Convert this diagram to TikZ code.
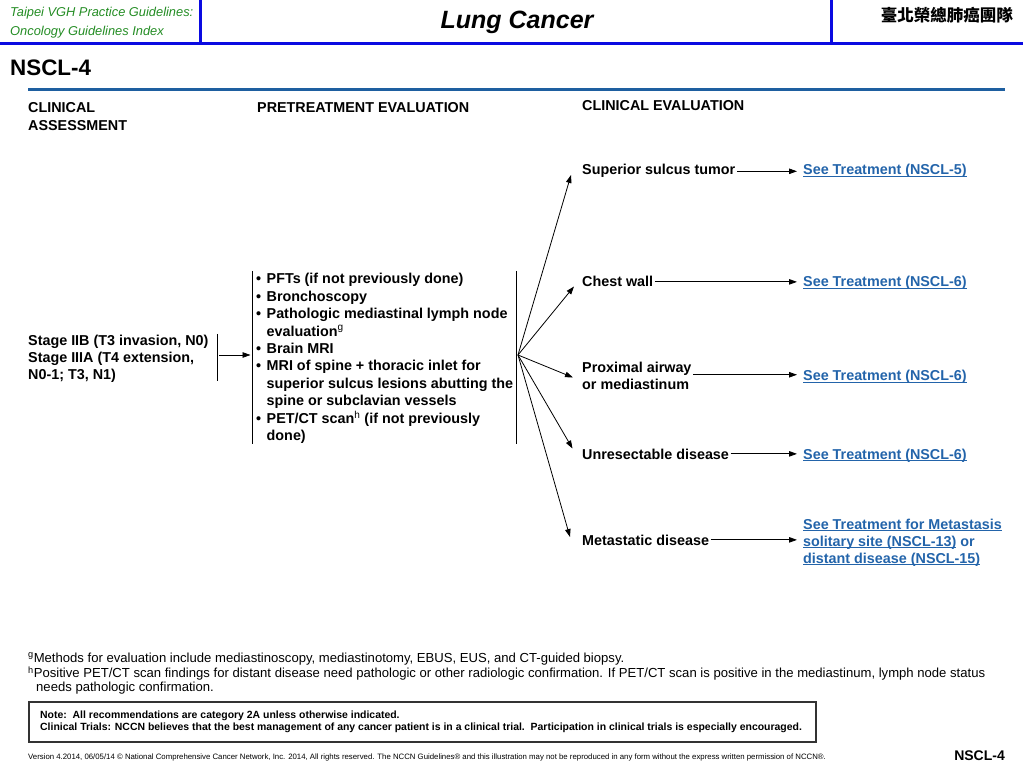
\documentclass[tikz,border=0pt]{standalone}
\usepackage{fontspec}
\setmainfont{Liberation Sans}
\newfontfamily\cjk{Noto Sans CJK TC}
\usetikzlibrary{arrows.meta}
\definecolor{hdrblue}{RGB}{10,10,225}
\definecolor{rulblue}{RGB}{30,95,160}
\definecolor{lnkblue}{RGB}{35,100,170}
\definecolor{grn}{RGB}{35,140,35}
\newcommand\ulk[1]{\setbox0\hbox{#1}\rlap{\rule[-2.2pt]{\wd0}{1.1pt}}\box0\relax}
\newcommand\txtlines[3]{{\fontsize{#1}{#2}\selectfont\begin{tabular}[t]{@{}l@{}}#3\end{tabular}}}
\newcommand\bulx{\makebox[10.5pt][l]{•}}
\newcommand\indx{\hspace*{10.5pt}}
\begin{document}
\begin{tikzpicture}[x=1pt,y=-1pt,
  lab/.style={anchor=base west,inner sep=0pt,font=\bfseries\fontsize{14.35}{17.4}\selectfont},
  lnk/.style={lab,text=lnkblue},
  arr/.style={-{Triangle[length=8pt,width=5.5pt]},line width=0.8pt},
  bar/.style={line width=0.8pt}]
\useasboundingbox (0,0) rectangle (1023,767);
% header
\draw[hdrblue,line width=3.5pt] (0,43.3) -- (1023,43.3);
\draw[hdrblue,line width=3pt] (200,0) -- (200,43.3);
\draw[hdrblue,line width=3pt] (831,0) -- (831,43.3);
\node[anchor=base west,inner sep=0pt,text=grn,font=\itshape\fontsize{12.85}{15}\selectfont] (org1) at (10,17) {Taipei VGH Practice Guidelines:};
\node[anchor=base west,inner sep=0pt,text=grn,font=\itshape\fontsize{12.85}{15}\selectfont] (org2) at (10,36) {Oncology Guidelines Index};
\node[anchor=base,inner sep=0pt,font=\bfseries\itshape\fontsize{25}{30}\selectfont] (title) at (517,29) {Lung Cancer};
\node[anchor=base east,inner sep=0pt,font=\cjk\bfseries\fontsize{16.5}{20}\selectfont] (team) at (1013,22) {臺北榮總肺癌團隊};
\node[anchor=base west,inner sep=0pt,font=\bfseries\fontsize{22.4}{26}\selectfont] (page) at (10,76) {NSCL-4};
\draw[rulblue,line width=3pt] (28,89.5) -- (1005,89.5);
% column headers
\node[lab] (h1) at (28,113) {\txtlines{14.35}{18}{CLINICAL\\ASSESSMENT}};
\node[lab] (h2) at (257,113) {PRETREATMENT EVALUATION};
\node[lab] (h3) at (582,111) {CLINICAL EVALUATION};
% clinical assessment
\node[lab] (stage) at (28,345) {\txtlines{14.35}{17.5}{Stage IIB (T3 invasion, N0)\\Stage IIIA (T4 extension,\\N0-1; T3, N1)}};
\draw[bar] (217,334) -- (217,381);
\coordinate (sbar) at (217,355);
\coordinate (lbar) at (252,355);
\draw[arr,shorten <=2pt,shorten >=1.5pt] (sbar) -- (lbar);
% pretreatment evaluation
\draw[bar] (252,271) -- (252,444);
\draw[bar] (516,271) -- (516,444);
\node[lab] (evals) at (256,284) {\txtlines{14.35}{17.4}{%
\bulx PFTs (if not previously done)\\
\bulx Bronchoscopy\\
\bulx Pathologic mediastinal lymph node\\
\indx evaluation\textsuperscript{\mdseries g}\\
\bulx Brain MRI\\
\bulx MRI of spine + thoracic inlet for\\
\indx superior sulcus lesions abutting the\\
\indx spine or subclavian vessels\\
\bulx PET/CT scan\textsuperscript{\mdseries h} (if not previously\\
\indx done)}};
% clinical evaluation
\node[lab] (sup) at (582,175) {Superior sulcus tumor};
\node[lab] (chest) at (582,287) {Chest wall};
\node[lab] (prox) at (582,372) {\txtlines{14.35}{17.5}{Proximal airway\\or mediastinum}};
\node[lab] (unres) at (582,459) {Unresectable disease};
\node[lab] (meta) at (582,545) {Metastatic disease};
\coordinate (fan) at (518,355);
\coordinate (t1) at (571,175);
\coordinate (t2) at (574,286.5);
\coordinate (t3) at (573,377.5);
\coordinate (t4) at (572.5,448.5);
\coordinate (t5) at (570,537);
\foreach \t in {t1,t2,t3,t4,t5} \draw[arr] (fan) -- (\t);
% links
\node[lnk] (l1) at (803,175) {\ulk{See Treatment (NSCL-5)}};
\node[lnk] (l2) at (803,287) {\ulk{See Treatment (NSCL-6)}};
\node[lnk] (l3) at (803,381) {\ulk{See Treatment (NSCL-6)}};
\node[lnk] (l4) at (803,459) {\ulk{See Treatment (NSCL-6)}};
\node[lnk] (l5) at (803,529) {\txtlines{14.35}{17}{\ulk{See Treatment for Metastasis}\\\ulk{solitary site (NSCL-13)} or\\\ulk{distant disease (NSCL-15)}}};
\draw[arr,shorten <=1.5pt,shorten >=6pt] (sup.east) -- (sup.east -| l1.west);
\draw[arr,shorten <=1.5pt,shorten >=6pt] (chest.east) -- (chest.east -| l2.west);
\draw[arr,shorten <=1.5pt,shorten >=6pt] ([yshift=2.5pt]prox.east) -- ([yshift=2.5pt]prox.east -| l3.west);
\draw[arr,shorten <=1.5pt,shorten >=6pt] (unres.east) -- (unres.east -| l4.west);
\draw[arr,shorten <=1.5pt,shorten >=6pt] (meta.east) -- (meta.east -| l5.west);
% footnotes
\node[anchor=base west,inner sep=0pt] (fn) at (28,662) {\txtlines{13.1}{14.6}{%
\textsuperscript{g}Methods for evaluation include mediastinoscopy, mediastinotomy, EBUS, EUS, and CT-guided biopsy.\\
\textsuperscript{h}Positive PET/CT scan findings for distant disease need pathologic or other radiologic confirmation. If PET/CT scan is positive in the mediastinum, lymph node status\\
\hspace*{8pt}needs pathologic confirmation.}};
\node[draw=black!80,line width=1.6pt,anchor=north west,minimum width=787pt,minimum height=40pt,inner sep=0pt] (notebox) at (28,701) {};
\node[anchor=base west,inner sep=0pt,font=\bfseries] (note) at (40,718) {\txtlines{10.45}{12}{%
Note:\ \ All recommendations are category 2A unless otherwise indicated.\\
Clinical Trials: NCCN believes that the best management of any cancer patient is in a clinical trial.\ \ Participation in clinical trials is especially encouraged.}};
\node[anchor=base west,inner sep=0pt,font=\fontsize{7.8}{9}\selectfont] (ver) at (28,759) {Version 4.2014, 06/05/14 © National Comprehensive Cancer Network, Inc. 2014, All rights reserved. The NCCN Guidelines® and this illustration may not be reproduced in any form without the express written permission of NCCN®.};
\node[anchor=base east,inner sep=0pt,font=\bfseries\fontsize{14}{16}\selectfont] (pg2) at (1005,760) {NSCL-4};
\end{tikzpicture}
\end{document}
